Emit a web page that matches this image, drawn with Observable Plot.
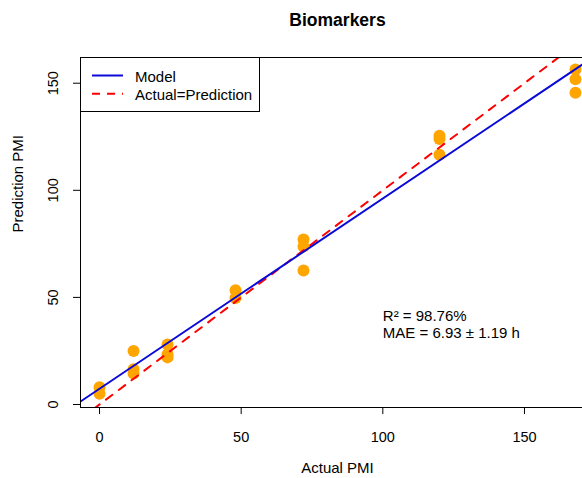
<!DOCTYPE html>
<html><head><meta charset="utf-8">
<script src="https://cdn.jsdelivr.net/npm/d3@7"></script>
<script src="https://cdn.jsdelivr.net/npm/@observablehq/plot@0.6"></script>
<style>
body{margin:0;background:#fff;}
#wrap{position:relative;width:582px;height:478px;overflow:hidden;font-family:"Liberation Sans",Arial,sans-serif;}
#wrap svg{overflow:hidden;}
#legend{position:absolute;left:80px;top:57px;width:180px;height:55px;border:1px solid #000;box-sizing:border-box;background:#fff;}
</style></head><body><div id="wrap"></div>
<script>
// Data
const actualPMI    = [0, 0, 12, 12, 12, 24, 24, 24, 48, 48, 72, 72, 72, 120, 120, 120, 168, 168, 168];
const predictedPMI = [8, 5, 25, 16.5, 14.5, 28, 23.5, 22, 53.3, 49.7, 77, 73.8, 62.6, 125.5, 124, 116.6, 156.4, 151.9, 145.5];
const modelCoef = {intercept: 7.37, slope: 0.888};
const xTicks = [0, 50, 100, 150];
const yTicks = [0, 50, 100, 150];
const legendLabels = ["Model", "Actual=Prediction"];
const legendColors = ["#0a0ad8", "#ff0000"];
const annotationLines = ["R\u00B2 = 98.76%", "MAE = 6.93 \u00B1 1.19 h"];
const titleText = "Biomarkers";
const xLabel = "Actual PMI";
const yLabel = "Prediction PMI";

const points = actualPMI.map((a, i) => ({actual: a, predicted: predictedPMI[i]}));
const xDomain = [-6.72, 174.72];
const yDomain = [-1.4, 162.0];
const modelLine = xDomain.map(x => ({x, y: modelCoef.intercept + modelCoef.slope * x}));
const identityLine = xDomain.map(x => ({x, y: x}));

const FONT = "Liberation Sans, Arial, sans-serif";
const chart = Plot.plot({
  width: 582, height: 478,
  marginLeft: 80, marginTop: 57, marginBottom: 71, marginRight: -12,
  x: {domain: xDomain},
  y: {domain: yDomain},
  style: {fontFamily: FONT, color: "#000", background: "#fff"},
  marks: [
    Plot.dot(points, {x: "actual", y: "predicted", r: 6, fill: "#FFA500", stroke: "none"}),
    Plot.line(identityLine, {x: "x", y: "y", stroke: legendColors[1], strokeWidth: 2, strokeDasharray: "8,8", clip: true}),
    Plot.line(modelLine, {x: "x", y: "y", stroke: legendColors[0], strokeWidth: 2, clip: true}),
    Plot.frame({stroke: "#000", strokeWidth: 1}),
    Plot.axisX({ticks: xTicks, tickSize: 7, tickPadding: 17, fontSize: 14.5, label: null}),
    Plot.axisY({ticks: yTicks, tickSize: 7, tickFormat: () => "", label: null}),
    Plot.text(yTicks, {y: d => d, text: d => String(d), frameAnchor: "left", rotate: -90, textAnchor: "middle", lineAnchor: "middle", dx: -27, fontSize: 14.5}),
    Plot.text([annotationLines.join("\n")], {x: 100, y: 37.4, textAnchor: "start", lineAnchor: "middle", lineHeight: 1.1, fontSize: 15}),
    Plot.text([titleText], {frameAnchor: "top", dy: -37, fontSize: 17.5, fontWeight: "bold", lineAnchor: "middle"}),
    Plot.text([xLabel], {frameAnchor: "bottom", dy: 61, fontSize: 15, lineAnchor: "middle"}),
    Plot.text([yLabel], {frameAnchor: "left", dx: -62, rotate: -90, fontSize: 15, lineAnchor: "middle"})
  ]
});
const wrap = document.getElementById("wrap");
wrap.appendChild(chart);

// Legend (top-left box)
const lg = document.createElement("div");
lg.id = "legend";
const ns = "http://www.w3.org/2000/svg";
const lsvg = document.createElementNS(ns, "svg");
lsvg.setAttribute("width", 178); lsvg.setAttribute("height", 53);
legendLabels.forEach((lab, i) => {
  const cy = 17.5 + i * 18.3;
  const ln = document.createElementNS(ns, "line");
  ln.setAttribute("x1", 11); ln.setAttribute("x2", 42);
  ln.setAttribute("y1", cy); ln.setAttribute("y2", cy);
  ln.setAttribute("stroke", legendColors[i]); ln.setAttribute("stroke-width", 2);
  if (i === 1) ln.setAttribute("stroke-dasharray", "8,7");
  lsvg.appendChild(ln);
  const t = document.createElementNS(ns, "text");
  t.setAttribute("x", 54); t.setAttribute("y", cy + 6.5);
  t.setAttribute("font-size", 15); t.setAttribute("font-family", FONT);
  t.textContent = lab;
  lsvg.appendChild(t);
});
lg.appendChild(lsvg);
wrap.appendChild(lg);
</script>
</body></html>
